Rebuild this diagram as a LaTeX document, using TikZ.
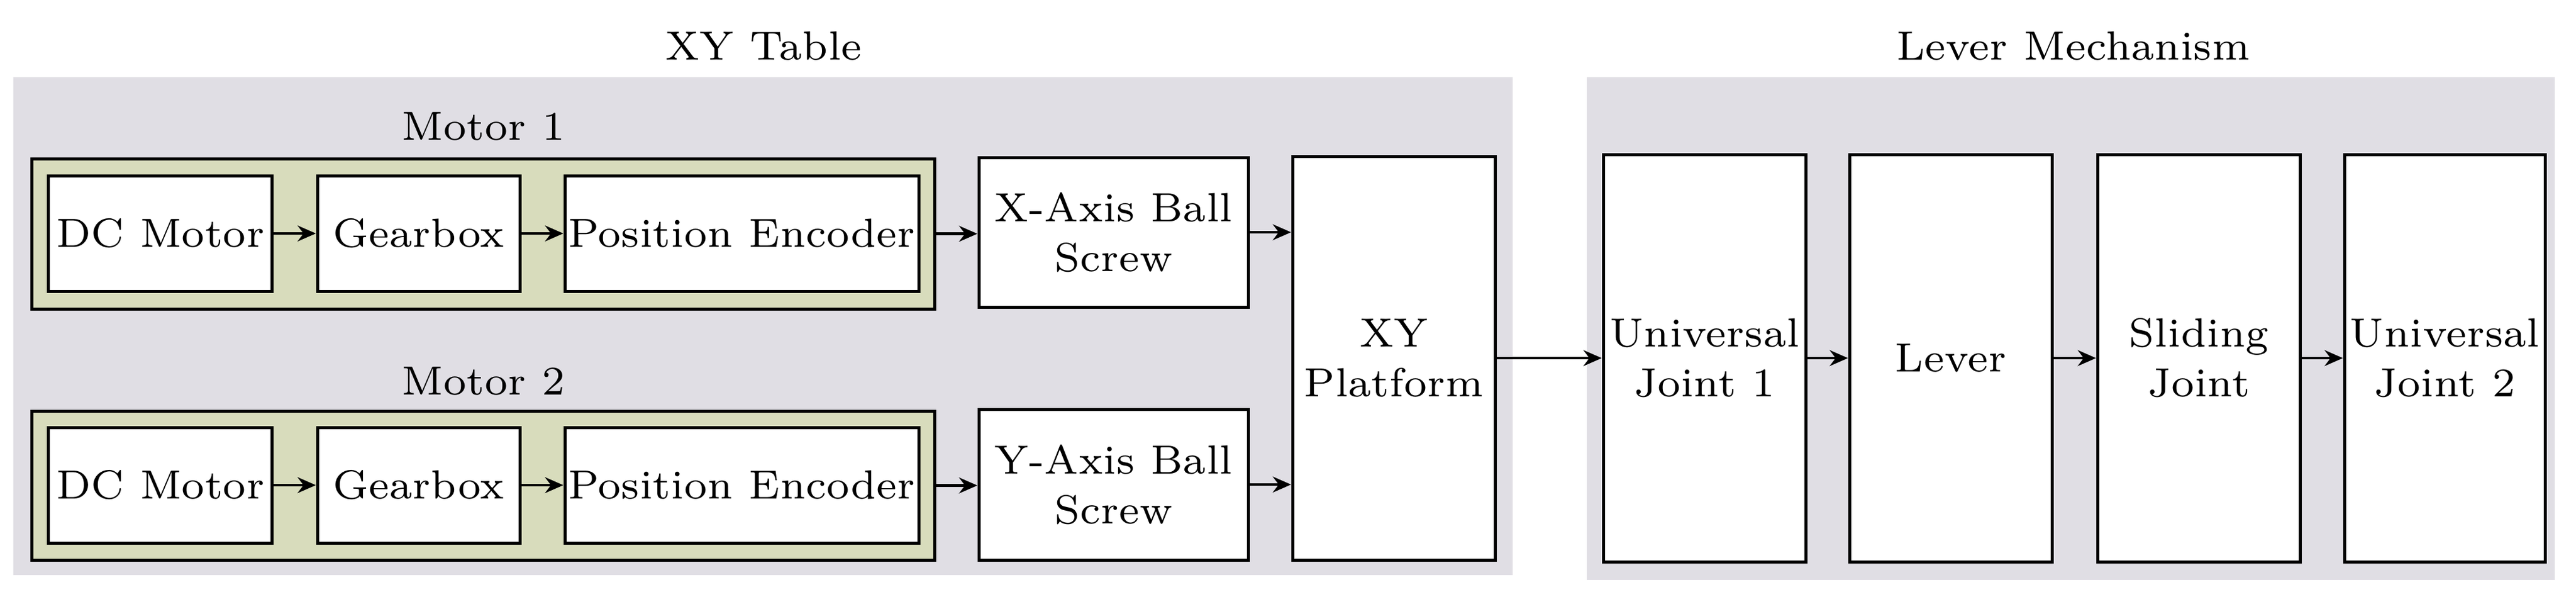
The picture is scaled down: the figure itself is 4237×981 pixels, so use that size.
\documentclass[tikz,border=0pt]{standalone}
\usetikzlibrary{arrows.meta}
\definecolor{grp}{HTML}{E0DEE4}
\definecolor{mot}{HTML}{D8DCBC}
\begin{document}
\begin{tikzpicture}[x=0.1pt,y=-0.1pt,
  box/.style={draw=black,line width=0.5pt,fill=white,inner sep=0pt,align=center,font=\fontsize{6.7}{8.2}\selectfont},
  grpbox/.style={fill=grp,draw=none,inner sep=0pt},
  motbox/.style={fill=mot,draw=black,line width=0.5pt,inner sep=0pt},
  ttl/.style={font=\fontsize{6.7}{8.2}\selectfont,inner sep=0pt},
  arr/.style={-{Stealth[length=3pt,width=2.6pt]},line width=0.45pt}]
\useasboundingbox (0,0) rectangle (4237,981);
\node[grpbox,minimum width=246.6pt,minimum height=81.9pt] (g1) at (1255,536.5) {};
\node[grpbox,minimum width=159.2pt,minimum height=82.7pt] (g2) at (3406,540.5) {};
\node[ttl] (t1) at (1256,76) {XY Table};
\node[ttl] (t2) at (3410,76) {Lever Mechanism};
\node[ttl] (tm1) at (795,208) {Motor 1};
\node[ttl] (tm2) at (795,627) {Motor 2};
\node[motbox,minimum width=148.6pt,minimum height=24.7pt] (m1) at (795,384.5) {};
\node[motbox,minimum width=148.6pt,minimum height=24.5pt] (m2) at (795,798.5) {};
\foreach \r/\y in {1/384,2/798}{
  \node[box,minimum width=36.9pt,minimum height=19pt] (dc\r) at (263.5,\y) {DC Motor};
  \node[box,minimum width=33.3pt,minimum height=19pt] (gb\r) at (688.5,\y) {Gearbox};
  \node[box,minimum width=58.2pt,minimum height=19pt] (pe\r) at (1220,\y) {Position Encoder};
  \draw[arr] (dc\r) -- (gb\r);
  \draw[arr] (gb\r) -- (pe\r);
}
\node[box,minimum width=44.3pt,minimum height=24.6pt] (xa) at (1831.5,382) {X-Axis Ball\\Screw};
\node[box,minimum width=44.3pt,minimum height=24.8pt] (ya) at (1831.5,797) {Y-Axis Ball\\Screw};
\node[box,minimum width=33.3pt,minimum height=66.4pt] (xy) at (2292.5,589) {XY\\Platform};
\node[box,minimum width=33.3pt,minimum height=67pt] (uj1) at (2803.5,589) {Universal\\Joint 1};
\node[box,minimum width=33.3pt,minimum height=67pt] (lev) at (3208.5,589) {Lever};
\node[box,minimum width=33.3pt,minimum height=67pt] (sl) at (3616.5,589) {Sliding\\Joint};
\node[box,minimum width=33pt,minimum height=67pt] (uj2) at (4021,589) {Universal\\Joint 2};
\draw[arr] (m1.east) -- (m1.east -| xa.west);
\draw[arr] (m2.east) -- (m2.east -| ya.west);
\draw[arr] (xa.east) -- (xa.east -| xy.west);
\draw[arr] (ya.east) -- (ya.east -| xy.west);
\draw[arr] (xy) -- (uj1);
\draw[arr] (uj1) -- (lev);
\draw[arr] (lev) -- (sl);
\draw[arr] (sl) -- (uj2);
\end{tikzpicture}
\end{document}
